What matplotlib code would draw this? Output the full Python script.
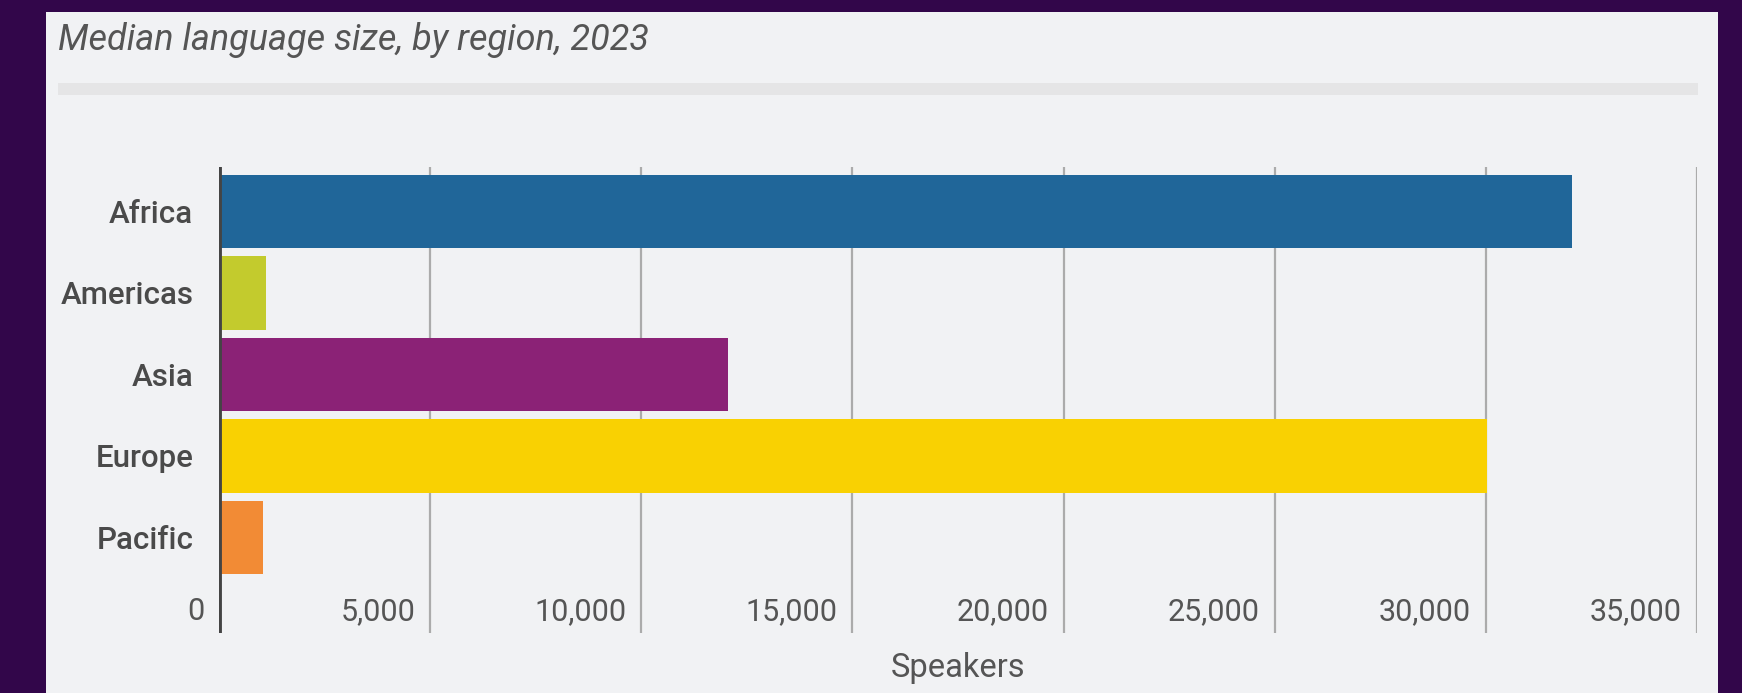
import matplotlib.pyplot as plt
from matplotlib.patches import Rectangle

regions = ["Africa", "Americas", "Asia", "Europe", "Pacific"]
speakers = [32040, 1105, 12050, 30030, 1050]
bar_colors = ["#206699", "#c3cb2d", "#8b2276", "#f9d102", "#f28b35"]
x_ticks = [0, 5000, 10000, 15000, 20000, 25000, 30000, 35000]

W, H = 1742, 693
outer = "#32064a"
panel = "#f1f2f4"
text_col = "#555555"

plt.rcParams['font.family'] = ['Roboto', 'DejaVu Sans']

fig = plt.figure(figsize=(W / 100, H / 100), dpi=100)
fig.patch.set_facecolor(outer)

# light panel and the grey rule under the title
fig.patches.append(Rectangle((46 / W, 0), (1718 - 46) / W, (H - 12) / H,
                             transform=fig.transFigure, facecolor=panel,
                             edgecolor="none", zorder=-2))
fig.patches.append(Rectangle((58 / W, (H - 95) / H), (1698 - 58) / W, 12 / H,
                             transform=fig.transFigure, facecolor="#e5e5e6",
                             edgecolor="none", zorder=-1))

fig.text(58 / W, (H - 50) / H, "Median language size, by region, 2023",
         fontsize=25.9, style="italic", color=text_col, va="baseline", ha="left")

ax = fig.add_axes([219 / W, 60 / H, (1697 - 219) / W, (633 - 167) / H])
ax.set_facecolor("none")

y = list(range(len(regions)))
ax.barh(y, speakers, height=0.9, color=bar_colors, zorder=3)

ax.set_xlim(0, 35000)
ax.set_ylim(5.172, -0.546)

for s in ax.spines.values():
    s.set_visible(False)
ax.tick_params(length=0)
ax.set_xticks([])
ax.set_yticks(y)
ax.set_yticklabels(regions, fontsize=22.5, fontweight="medium", color="#4a4a4a")
ax.tick_params(axis="y", pad=18.5)

for xv in x_ticks[1:]:
    ax.axvline(xv, color="#ababab", linewidth=1.6, zorder=1)
ax.axvline(0, color="#444444", linewidth=3.5, zorder=4)

for xv in x_ticks:
    ax.annotate(f"{xv:,}", xy=(xv, 0), xycoords=("data", "axes fraction"),
                xytext=(-15, 21), textcoords="offset pixels",
                ha="right", va="center", fontsize=22, color=text_col)

ax.annotate("Speakers", xy=(0.5, 0), xycoords="axes fraction",
            xytext=(0, -35), textcoords="offset pixels",
            ha="center", va="center", fontsize=23.5, color=text_col)

fig.savefig("out.png", dpi=100, facecolor=outer)
